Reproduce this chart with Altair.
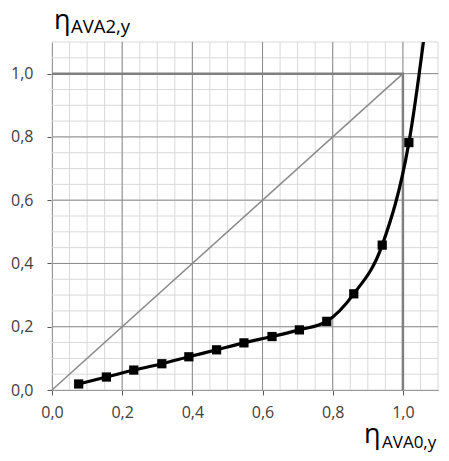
import altair as alt
import pandas as pd

# Series
eta_ava0 = [0.076, 0.155, 0.233, 0.313, 0.390, 0.469, 0.547, 0.627, 0.705, 0.783, 0.860, 0.941, 1.017, 1.095]
eta_ava2 = [0.019, 0.041, 0.063, 0.083, 0.105, 0.127, 0.149, 0.169, 0.190, 0.217, 0.304, 0.458, 0.782, 1.43]

# Reference lines
box_x = [0.0, 1.0, 1.0]
box_y = [1.0, 1.0, 0.0]
diag_x = [0.0, 1.0]
diag_y = [0.0, 1.0]

tick_vals = [0.0, 0.05, 0.1, 0.15, 0.2, 0.25, 0.3, 0.35, 0.4, 0.45, 0.5, 0.55,
             0.6, 0.65, 0.7, 0.75, 0.8, 0.85, 0.9, 0.95, 1.0, 1.05, 1.1]
major_vals = [0.2, 0.4, 0.6, 0.8, 1.0]

FONT = "Open Sans"
is_major = "abs(datum.value*5 - round(datum.value*5)) < 0.001"
label_expr = f"{is_major} ? replace(format(datum.value, '.1f'), '.', ',') : ''"

def make_axis(**kw):
    return alt.Axis(values=tick_vals, labelExpr=label_expr, grid=False, tickSize=5,
                    tickColor="#595959", domainColor="#595959", domainWidth=1,
                    labelFont=FONT, labelFontSize=16, labelColor="#404040",
                    labelOverlap=False, labelFlush=False, title=None, **kw)

xs = alt.Scale(domain=[0, 1.1], nice=False, zero=False)
ys = alt.Scale(domain=[0, 1.1], nice=False, zero=False)

df = pd.DataFrame({"x": eta_ava0, "y": eta_ava2})
box = pd.DataFrame({"x": box_x, "y": box_y, "o": [0, 1, 2]})
diag = pd.DataFrame({"x": diag_x, "y": diag_y})
minor = pd.DataFrame({"v": tick_vals})
major = pd.DataFrame({"v": major_vals})

base_axes = alt.Chart(diag).mark_point(opacity=0).encode(
    x=alt.X("x:Q", scale=xs, axis=make_axis(labelPadding=9)),
    y=alt.Y("y:Q", scale=ys, axis=make_axis(labelPadding=14)),
)

grid_minor_v = alt.Chart(minor).mark_rule(color="#d9d9d9", strokeWidth=1).encode(
    x=alt.X("v:Q", scale=xs))
grid_minor_h = alt.Chart(minor).mark_rule(color="#d9d9d9", strokeWidth=1).encode(
    y=alt.Y("v:Q", scale=ys))
grid_major_v = alt.Chart(major).mark_rule(color="#8c8c8c", strokeWidth=1).encode(
    x=alt.X("v:Q", scale=xs))
grid_major_h = alt.Chart(major).mark_rule(color="#8c8c8c", strokeWidth=1).encode(
    y=alt.Y("v:Q", scale=ys))

diag_line = alt.Chart(diag).mark_line(color="#8a8a8a", strokeWidth=1.5).encode(
    x=alt.X("x:Q", scale=xs), y=alt.Y("y:Q", scale=ys))

box_line = alt.Chart(box).mark_line(color="#808080", strokeWidth=2.5).encode(
    x=alt.X("x:Q", scale=xs), y=alt.Y("y:Q", scale=ys), order="o:Q")

curve = alt.Chart(df).mark_line(color="black", strokeWidth=3.2, interpolate="monotone", clip=True).encode(
    x=alt.X("x:Q", scale=xs), y=alt.Y("y:Q", scale=ys))

pts = alt.Chart(df).mark_square(color="black", size=85, opacity=1, clip=True).encode(
    x=alt.X("x:Q", scale=xs), y=alt.Y("y:Q", scale=ys))

one = pd.DataFrame({"a": [0]})
def txt(s, x, y, size):
    return alt.Chart(one).mark_text(text=s, font=FONT, fontSize=size, color="#000000",
                                    align="left", baseline="alphabetic").encode(
        x=alt.value(x), y=alt.value(y))

titles = (txt("η", 2, -13, 27) + txt("AVA2,y", 19, -9, 18.5) +
          txt("η", 312, 401, 27) + txt("AVA0,y", 330, 406, 17))

chart = alt.layer(grid_minor_v, grid_minor_h, grid_major_v, grid_major_h, base_axes,
                  diag_line, box_line, curve, pts, titles).properties(
    width=386, height=348,
    autosize=alt.AutoSizeParams(type="none"),
    padding={"left": 44, "top": 34, "right": 3, "bottom": 63},
).configure_view(stroke=None)

chart.save("out.html", embed_options={"renderer": "svg", "actions": False})
